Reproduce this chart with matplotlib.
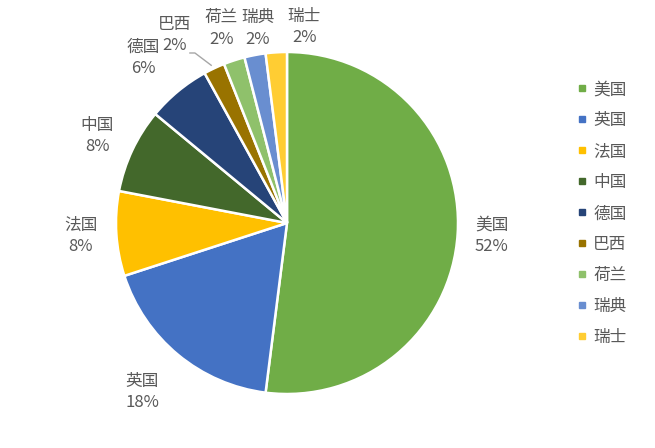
import numpy as np
import matplotlib
matplotlib.use('Agg')
import matplotlib.pyplot as plt
from matplotlib.lines import Line2D

plt.rcParams['font.family'] = ['Noto Sans CJK SC', 'DejaVu Sans']

# ── data ──────────────────────────────────────────────
countries = ['美国', '英国', '法国', '中国', '德国', '巴西', '荷兰', '瑞典', '瑞士']
shares = [52, 18, 8, 8, 6, 2, 2, 2, 2]

colors = ['#70AD47', '#4472C4', '#FFC000', '#43682B', '#264478',
          '#997300', '#8FC16B', '#698ED0', '#FFCD33']
# label placement: radius factor and angle nudge (deg) relative to slice middle
label_dist = [1.2, 1.3, 1.21, 1.22, 1.28, 1.28, 1.2, 1.15, 1.15]
label_turn = [0, -1, 0, 0.6, 1.4, 5.6, 0.7, -2.3, -8.6]
text_color = '#595959'

W, H = 655, 448
fig = plt.figure(figsize=(W / 100, H / 100), dpi=100)
ax = fig.add_axes([0, 0, 1, 1])

cx, cy, R = 287, H - 223, 171
wedges, _ = ax.pie(shares, colors=colors, startangle=90, counterclock=False,
                   center=(cx, cy), radius=R, frame=True,
                   wedgeprops=dict(edgecolor='white', linewidth=1.8))
ax.set_xlim(0, W)
ax.set_ylim(0, H)
ax.axis('off')

# labels outside each wedge
for i, w in enumerate(wedges):
    mid = np.deg2rad((w.theta1 + w.theta2) / 2)
    ang = mid + np.deg2rad(label_turn[i])
    tx = cx + label_dist[i] * R * np.cos(ang)
    ty = cy + label_dist[i] * R * np.sin(ang)
    if countries[i] == '巴西':
        # leader line back to the slice
        ax.plot([tx + 15, tx + 20, cx + 1.0 * R * np.cos(mid) - 3],
                [ty - 18, ty - 18, cy + 1.0 * R * np.sin(mid) + 3],
                color='#A6A6A6', lw=1.0)
    ax.text(tx, ty, f'{countries[i]}\n{shares[i]}%', ha='center', va='center',
            fontsize=12, color=text_color, linespacing=1.35)

handles = [Line2D([0], [0], marker='s', linestyle='none', markersize=5,
                  markerfacecolor=c, markeredgecolor=c) for c in colors]
fig.legend(handles, countries, loc='upper left', bbox_to_anchor=(569 / W, 1 - 73 / H),
           frameon=False, fontsize=12, labelcolor=text_color,
           handlelength=0.5, handletextpad=0.45, labelspacing=0.84, borderpad=0)

plt.savefig('out.png', dpi=100)
